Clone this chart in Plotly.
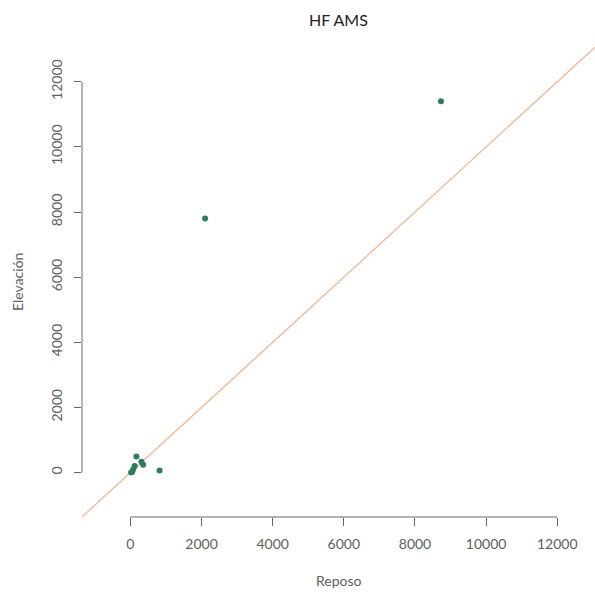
import plotly.graph_objects as go

# Data
reposo = [8730, 2100, 170, 310, 360, 120, 80, 50, 20, 820]
elevacion = [11400, 7800, 490, 330, 240, 200, 100, 20, 5, 60]
tick_vals = [0, 2000, 4000, 6000, 8000, 10000, 12000]
tick_text = [str(v) for v in tick_vals]
title = "HF AMS"
x_label = "Reposo"
y_label = "Elevación"

FONT = "Lato"
GRAY = "#606060"
AXIS_GRAY = "#666666"
ref_line = [-2000, 14000]

fig = go.Figure()
fig.add_trace(go.Scatter(x=ref_line, y=ref_line, mode="lines",
                         line=dict(color="#e8b490", width=1.2),
                         hoverinfo="skip", showlegend=False))
fig.add_trace(go.Scatter(x=reposo, y=elevacion, mode="markers",
                         marker=dict(color="#2e7d5f", size=6),
                         showlegend=False))

# R-style axis lines spanning first to last tick
fig.add_shape(type="line", xref="x", yref="paper",
              x0=tick_vals[0], x1=tick_vals[-1], y0=0, y1=0,
              line=dict(color=AXIS_GRAY, width=1))
fig.add_shape(type="line", xref="paper", yref="y",
              x0=0, x1=0, y0=tick_vals[0], y1=tick_vals[-1],
              line=dict(color=AXIS_GRAY, width=1))

fig.update_layout(
    width=595, height=592,
    margin=dict(l=82, r=0, t=47, b=75),
    plot_bgcolor="white", paper_bgcolor="white",
    font=dict(family=FONT, size=14, color=GRAY),
    title=dict(text=title, x=0.5, xref="paper", y=1 - 20 / 592, yanchor="middle",
               font=dict(family=FONT, size=16, color="#222222")),
    xaxis=dict(range=[-1360, 13060], showgrid=False, zeroline=False, showline=False,
               tickmode="array", tickvals=tick_vals, ticktext=tick_text,
               ticks="outside", ticklen=8, tickcolor=AXIS_GRAY, tickwidth=1,
               ticklabelstandoff=6,
               tickfont=dict(family=FONT, size=14, color=GRAY)),
    yaxis=dict(range=[-1364, 13066], showgrid=False, zeroline=False, showline=False,
               tickmode="array", tickvals=tick_vals, ticktext=tick_text,
               ticks="outside", ticklen=7, tickcolor=AXIS_GRAY, tickwidth=1,
               tickangle=-90, ticklabelstandoff=6,
               tickfont=dict(family=FONT, size=14, color=GRAY)),
    annotations=[
        dict(text=x_label, xref="paper", yref="paper", x=0.5, y=0,
             yshift=-63, showarrow=False, yanchor="middle",
             font=dict(family=FONT, size=14, color=GRAY)),
        dict(text=y_label, xref="paper", yref="paper", x=0, y=0.5,
             xshift=-65, showarrow=False, xanchor="center", textangle=-90,
             font=dict(family=FONT, size=14, color=GRAY)),
    ],
)

fig.write_html("out.html")
